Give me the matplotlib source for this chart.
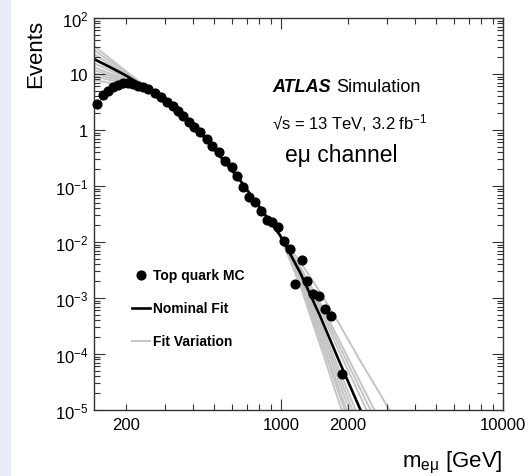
import matplotlib
matplotlib.use("Agg")
import matplotlib.pyplot as plt
from matplotlib.ticker import FixedLocator, FixedFormatter, NullFormatter
from matplotlib.patches import Rectangle

plt.rcParams['font.family'] = ['Liberation Sans', 'DejaVu Sans']
plt.rcParams['mathtext.fontset'] = 'custom'
plt.rcParams['mathtext.rm'] = 'Liberation Sans'
plt.rcParams['mathtext.it'] = 'Liberation Sans:italic'
plt.rcParams['mathtext.bf'] = 'Liberation Sans:bold'

# Top quark MC points (m_emu in GeV, events)
mc_mass = [147.8, 157.9, 166.3, 175.1, 184.4, 194.3, 204.6, 215.4, 226.9, 239.0,
           251.7, 270.6, 288.1, 306.6, 326.2, 343.6, 362.0, 385.2, 405.7, 431.7,
           464.2, 488.9, 525.7, 559.5, 601.6, 633.6, 674.4, 717.6, 763.7, 812.7,
           864.9, 911.0, 969.3, 1031.6, 1097.8, 1156, 1243, 1309, 1394, 1483,
           1578, 1680, 1883]
mc_events = [2.91, 4.22, 4.97, 5.86, 6.36, 6.91, 6.91, 6.63, 6.11, 5.86,
             5.40, 4.58, 3.88, 3.16, 2.68, 2.18, 1.78, 1.39, 1.13, 0.921,
             0.691, 0.518, 0.405, 0.280, 0.218, 0.151, 0.0960, 0.0636, 0.0518, 0.0358,
             0.0247, 0.0228, 0.0185, 0.0104, 0.0075, 0.00178, 0.00477, 0.00201, 0.00118, 0.00109,
             0.000636, 0.000477, 4.4e-5]

# nominal fit
fit_mass = [143.8, 169.7, 198.3, 231.7, 285.1, 431.7, 653.6, 989.7,
            1218, 1498, 1844, 2269, 2792, 3436]
fit_nominal = [18.5, 13.3, 9.60, 6.63, 4.05, 0.921, 0.128, 0.0133,
               2.88e-3, 4.83e-4, 6.90e-5, 1.05e-5, 1.57e-6, 2.28e-7]

# fit variations: low-mass part, common middle part, high-mass tail
var_low = [
    [31.6, 18.8, 11.6, 7.17],
    [26.8, 16.8, 10.8, 6.94],
    [22.8, 14.9, 10.0, 6.74],
    [18.5, 12.8, 9.14, 6.49],
    [15.7, 11.5, 8.52, 6.31],
    [13.3, 10.2, 7.91, 6.13],
    [11.8, 9.32, 7.47, 6.01],
    [10.4, 8.52, 7.08, 5.86],
    [9.21, 7.81, 6.68, 5.74],
    [7.81, 6.94, 6.23, 5.58],
]
var_mid = [3.88, 0.884, 0.123, 0.0128]
var_tail = [
    [1.71e-3, 1.48e-4, 1.23e-5, 1.01e-6, 8.1e-8, 6.6e-9],
    [1.89e-3, 1.89e-4, 1.74e-5, 1.60e-6, 1.47e-7, 1.35e-8],
    [2.01e-3, 2.17e-4, 2.16e-5, 2.13e-6, 2.09e-7, 2.05e-8],
    [2.21e-3, 2.67e-4, 2.88e-5, 3.15e-6, 3.43e-7, 3.71e-8],
    [2.38e-3, 3.21e-4, 3.73e-5, 4.54e-6, 5.40e-7, 6.41e-8],
    [2.58e-3, 3.79e-4, 4.81e-5, 6.37e-6, 8.24e-7, 1.07e-7],
    [3.24e-3, 6.28e-4, 1.03e-4, 1.79e-5, 3.01e-6, 5.06e-7],
    [3.46e-3, 7.28e-4, 1.32e-4, 2.43e-5, 4.45e-6, 8.07e-7],
    [3.68e-3, 8.38e-4, 1.64e-4, 3.21e-5, 6.37e-6, 1.24e-6],
    [4.49e-3, 1.28e-3, 3.27e-4, 7.69e-5, 1.95e-5, 4.71e-6],
]

x_major = [1000, 10000]
x_minor = [200, 300, 400, 500, 600, 700, 800, 900,
           2000, 3000, 4000, 5000, 6000, 7000, 8000, 9000]
x_minor_labels = ['200', '', '', '', '', '', '', '',
                  '2000', '', '', '', '', '', '', '']
y_major = [1e-5, 1e-4, 1e-3, 1e-2, 1e-1, 1, 10, 100]
y_labels = [r'$\mathregular{10^{-5}}$', r'$\mathregular{10^{-4}}$', r'$\mathregular{10^{-3}}$',
            r'$\mathregular{10^{-2}}$', r'$\mathregular{10^{-1}}$', '1', '10',
            r'$\mathregular{10^{2}}$']

fig = plt.figure(figsize=(5.28, 4.77), dpi=100)
fig.patches.append(Rectangle((0, 0), 10 / 528, 1, transform=fig.transFigure,
                             color='#e9eef6', zorder=0))
ax = fig.add_axes([94 / 528, 1 - 411 / 477, 409 / 528, 392 / 477])

for low, tail in zip(var_low, var_tail):
    ax.plot(fit_mass, low + var_mid + tail, color='#c4c4c4', lw=1.4, zorder=1)
ax.plot(fit_mass, fit_nominal, color='k', lw=1.9, zorder=2)
ax.plot(mc_mass, mc_events, 'o', color='k', ms=6.3, zorder=3, clip_on=False)

ax.set_xscale('log')
ax.set_yscale('log')
ax.set_xlim(143.8, 10000)
ax.set_ylim(1e-5, 100)

ax.xaxis.set_major_locator(FixedLocator(x_major))
ax.xaxis.set_major_formatter(FixedFormatter(['1000', '10000']))
ax.xaxis.set_minor_locator(FixedLocator(x_minor))
ax.xaxis.set_minor_formatter(FixedFormatter(x_minor_labels))
ax.yaxis.set_major_locator(FixedLocator(y_major))
ax.yaxis.set_major_formatter(FixedFormatter(y_labels))
y_minor = [m * 10.0 ** e for e in range(-5, 2) for m in range(2, 10)]
ax.yaxis.set_minor_locator(FixedLocator(y_minor))
ax.yaxis.set_minor_formatter(NullFormatter())

ax.tick_params(which='both', direction='in', top=True, right=True,
               labelsize=12, width=0.8, color='#333333')
ax.tick_params(which='major', length=8)
ax.tick_params(which='minor', length=4.3)
ax.tick_params(axis='x', which='both', pad=5)
ax.tick_params(axis='y', which='both', pad=4)
for s in ax.spines.values():
    s.set_color('#333333')
    s.set_linewidth(1)

fig.text(36 / 528, 0.958, 'Events', rotation=90, ha='center', va='top', fontsize=16)
fig.text(0.951, 0.029, r'm$_{\mathregular{e\mu}}$ [GeV]', ha='right', va='center', fontsize=16)

ax.text(0.435, 0.824, 'ATLAS', transform=ax.transAxes, fontsize=13,
        fontweight='bold', style='italic', va='center')
ax.text(0.592, 0.824, 'Simulation', transform=ax.transAxes, fontsize=13, va='center')
ax.text(0.435, 0.735, '\u221as = 13 TeV, 3.2 fb$^{-1}$', transform=ax.transAxes,
        fontsize=12, va='center')
ax.text(0.467, 0.653, 'e\u03bc channel', transform=ax.transAxes, fontsize=16.5, va='center')

# legend drawn by hand
ax.plot([0.115], [0.344], 'o', color='k', ms=6.3, transform=ax.transAxes)
ax.text(0.144, 0.344, 'Top quark MC', transform=ax.transAxes, fontsize=10,
        fontweight='bold', va='center')
ax.plot([0.093, 0.137], [0.260, 0.260], color='k', lw=1.9, transform=ax.transAxes)
ax.text(0.144, 0.260, 'Nominal Fit', transform=ax.transAxes, fontsize=10,
        fontweight='bold', va='center')
ax.plot([0.093, 0.137], [0.176, 0.176], color='#c4c4c4', lw=1.4, transform=ax.transAxes)
ax.text(0.144, 0.176, 'Fit Variation', transform=ax.transAxes, fontsize=10,
        fontweight='bold', va='center')

fig.savefig('out.png', dpi=100)
